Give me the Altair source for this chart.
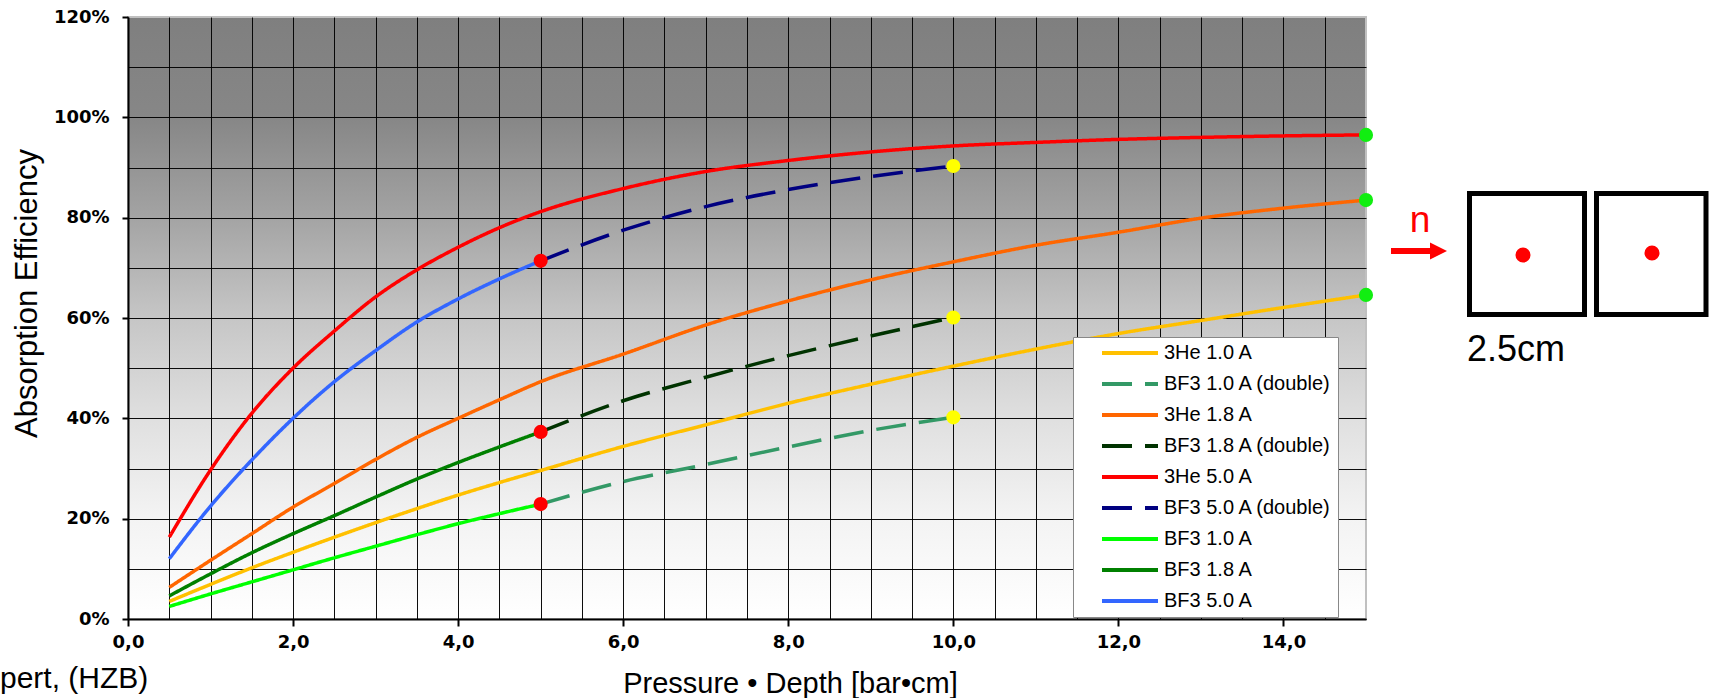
import altair as alt
import pandas as pd

# ---------------- data ----------------
x_he = [0.5, 1.0, 1.5, 2.0, 2.5, 3.0, 3.5, 4.0, 4.5, 5.0, 6.0, 7.0, 8.0, 9.0, 10.0, 11.0, 12.0, 13.0, 14.0, 15.0]
x_bf = [0.5, 1.0, 1.5, 2.0, 2.5, 3.0, 3.5, 4.0, 4.5, 5.0]
x_double = [5.0, 6.0, 7.0, 8.0, 9.0, 10.0]

he_10 = [3.5, 6.9, 10.2, 13.3, 16.3, 19.2, 22.0, 24.7, 27.2, 29.6, 34.4, 38.7, 43.0, 46.8, 50.4, 53.8, 56.9, 59.5, 62.1, 64.6]
he_18 = [6.3, 11.7, 17.0, 22.3, 27.0, 31.8, 36.2, 40.0, 43.7, 47.3, 52.8, 58.6, 63.4, 67.6, 71.2, 74.5, 77.1, 79.9, 81.9, 83.5]
he_50 = [16.3, 29.7, 41.0, 50.0, 57.4, 64.2, 69.6, 74.1, 78.0, 81.2, 85.8, 89.2, 91.4, 93.1, 94.3, 95.0, 95.6, 96.0, 96.3, 96.5]

bf_10 = [2.5, 5.0, 7.4, 9.8, 12.2, 14.5, 16.8, 19.0, 21.0, 22.9]
bf_18 = [4.6, 9.0, 13.2, 17.0, 20.6, 24.3, 27.9, 31.2, 34.3, 37.3]
bf_50 = [12.0, 22.5, 31.7, 40.0, 47.3, 53.5, 59.2, 63.8, 67.8, 71.4]

bf_10_double = [22.9, 27.4, 30.8, 34.3, 37.6, 40.2]
bf_18_double = [37.3, 43.5, 48.2, 52.5, 56.4, 60.1]
bf_50_double = [71.4, 77.5, 82.2, 85.6, 88.2, 90.3]

series_names = ["3He 1.0 A", "BF3 1.0 A (double)", "3He 1.8 A", "BF3 1.8 A (double)",
                "3He 5.0 A", "BF3 5.0 A (double)", "BF3 1.0 A", "BF3 1.8 A", "BF3 5.0 A"]
series_colors = ["#ffc000", "#339966", "#ff6600", "#003300",
                 "#ff0000", "#000080", "#00ff00", "#008000", "#3366ff"]
series_dashes = [[1, 0], [30, 13], [1, 0], [30, 13],
                 [1, 0], [30, 13], [1, 0], [1, 0], [1, 0]]

marker_x = [5.0, 5.0, 5.0, 10.0, 10.0, 10.0, 15.0, 15.0, 15.0]
marker_y = [71.4, 37.3, 22.9, 90.3, 60.1, 40.2, 96.5, 83.5, 64.6]
marker_kind = ["BF3 limit", "BF3 limit", "BF3 limit", "BF3 double", "BF3 double", "BF3 double",
               "3He", "3He", "3He"]
marker_kinds = ["BF3 limit", "BF3 double", "3He"]
marker_colors = ["#ff0000", "#ffff00", "#11ee11"]

x_ticks = [0.0, 0.5, 1.0, 1.5, 2.0, 2.5, 3.0, 3.5, 4.0, 4.5, 5.0, 5.5, 6.0, 6.5, 7.0, 7.5,
           8.0, 8.5, 9.0, 9.5, 10.0, 10.5, 11.0, 11.5, 12.0, 12.5, 13.0, 13.5, 14.0, 14.5]
y_ticks = [0, 5, 10, 15, 20, 25, 30, 35, 40, 45, 50, 55, 60, 65, 70, 75, 80, 85, 90, 95,
           100, 105, 110, 115, 120]

# ---------------- tables ----------------
rows = []
def add(name, xs, ys):
    for xv, yv in zip(xs, ys):
        rows.append({"series": name, "x": xv, "y": yv})

add("3He 1.0 A", x_he, he_10)
add("3He 1.8 A", x_he, he_18)
add("3He 5.0 A", x_he, he_50)
add("BF3 1.0 A", x_bf, bf_10)
add("BF3 1.8 A", x_bf, bf_18)
add("BF3 5.0 A", x_bf, bf_50)
add("BF3 1.0 A (double)", x_double, bf_10_double)
add("BF3 1.8 A (double)", x_double, bf_18_double)
add("BF3 5.0 A (double)", x_double, bf_50_double)
lines_df = pd.DataFrame(rows)
markers_df = pd.DataFrame({"x": marker_x, "y": marker_y, "kind": marker_kind})
one = pd.DataFrame({"k": [0]})

W, H = 1238, 602

x_scale = alt.Scale(domain=[0, 15], nice=False, zero=False)
y_scale = alt.Scale(domain=[0, 120], nice=False)

x_axis = alt.Axis(
    values=x_ticks,
    labelExpr="datum.value % 2 === 0 ? replace(format(datum.value, '.1f'), '.', ',') : ''",
    title="Pressure • Depth [bar•cm]",
    titleX=662, titleY=73, titleAlign="center", titleBaseline="alphabetic",
    titleFont="Liberation Sans", titleFontSize=29, titleFontWeight="normal", titleColor="black",
    labelPadding=7, labelOverlap=False, labelFlush=False, labelBound=False,
    tickSize=7, tickWidth=2, tickColor="black",
    tickOpacity={"condition": {"test": "datum.value % 2 === 0", "value": 1}, "value": 0},
    domainColor="black", domainWidth=2,
    grid=True, gridColor="black", gridWidth=1, gridOpacity=0.95,
)
y_axis = alt.Axis(
    values=y_ticks,
    labelExpr="datum.value % 20 === 0 ? datum.value + '%' : ''",
    title="Absorption Efficiency",
    titleX=-92, titleY=276, titleAngle=270, titleAlign="center", titleBaseline="alphabetic",
    titleFont="Liberation Sans", titleFontSize=31, titleFontWeight="normal", titleColor="black",
    labelPadding=13, labelOverlap=False, labelFlush=False, labelBound=False,
    tickSize=6, tickWidth=2, tickColor="black",
    tickOpacity={"condition": {"test": "datum.value % 20 === 0", "value": 1}, "value": 0},
    domainColor="black", domainWidth=2,
    grid=True, gridColor="black", gridWidth=1,
    gridOpacity={"condition": {"test": "datum.value >= 120", "value": 0}, "value": 0.95},
)

legend = alt.Legend(
    title=None, orient="none", legendX=945, legendY=320,
    symbolType="M0,0H7", symbolSize=256, symbolStrokeWidth=4,
    labelFont="Liberation Sans", labelFontSize=20, labelColor="black", labelLimit=400,
    rowPadding=11, labelOffset=52, symbolOffset=13, padding=6,
    fillColor="white", strokeColor="#888888",
)

lines = alt.Chart(lines_df).mark_line(strokeWidth=3.5, interpolate="monotone").encode(
    x=alt.X("x:Q", scale=x_scale, axis=x_axis),
    y=alt.Y("y:Q", scale=y_scale, axis=y_axis),
    stroke=alt.Stroke("series:N", scale=alt.Scale(domain=series_names, range=series_colors), legend=legend),
    strokeDash=alt.StrokeDash("series:N", scale=alt.Scale(domain=series_names, range=series_dashes), legend=legend),
)

points = alt.Chart(markers_df).mark_circle(size=200, opacity=1).encode(
    x=alt.X("x:Q", scale=x_scale),
    y=alt.Y("y:Q", scale=y_scale),
    fill=alt.Fill("kind:N", scale=alt.Scale(domain=marker_kinds, range=marker_colors), legend=None),
)

# ---------------- side diagram & note (pixel annotations) ----------------
sq1 = alt.Chart(one).mark_rect(fill="white", stroke="black", strokeWidth=5).encode(
    x=alt.value(1341.5), x2=alt.value(1456.5), y=alt.value(176.5), y2=alt.value(297.5))
sq2 = alt.Chart(one).mark_rect(fill="white", stroke="black", strokeWidth=5).encode(
    x=alt.value(1468.5), x2=alt.value(1578), y=alt.value(176.5), y2=alt.value(297.5))
dot1 = alt.Chart(one).mark_circle(color="#ff0000", size=227, opacity=1).encode(
    x=alt.value(1395), y=alt.value(238))
dot2 = alt.Chart(one).mark_circle(color="#ff0000", size=227, opacity=1).encode(
    x=alt.value(1524), y=alt.value(236))
shaft = alt.Chart(one).mark_rule(color="#ff0000", strokeWidth=6).encode(
    x=alt.value(1263), x2=alt.value(1304), y=alt.value(234))
head = alt.Chart(one).mark_point(shape="M-1,-1L1,0L-1,1Z", filled=True, color="#ff0000",
                                 size=289, opacity=1).encode(
    x=alt.value(1310.5), y=alt.value(234))
n_text = alt.Chart(one).mark_text(text="n", color="#ff0000", fontSize=37, font="Liberation Sans",
                                  align="center", baseline="alphabetic").encode(
    x=alt.value(1292), y=alt.value(215))
cm_text = alt.Chart(one).mark_text(text="2.5cm", color="black", fontSize=36, font="Liberation Sans",
                                   align="left", baseline="alphabetic").encode(
    x=alt.value(1339), y=alt.value(344))
credit = alt.Chart(one).mark_text(text="pert, (HZB)", color="black", fontSize=30, font="Liberation Sans",
                                  align="left", baseline="alphabetic").encode(
    x=alt.value(-128), y=alt.value(671))

gradient_expr = (
    "{gradient: 'linear', x1: 0, y1: 0, x2: 0, y2: 1, stops: ["
    "{offset: 0, color: '#7f7f7f'}, {offset: 0.17, color: '#878787'}, "
    "{offset: 0.33, color: '#a3a3a3'}, {offset: 0.5, color: '#c6c6c6'}, "
    "{offset: 0.67, color: '#e0e0e0'}, {offset: 0.83, color: '#f3f3f3'}, "
    "{offset: 1, color: '#ffffff'}]}"
)

chart = alt.layer(
    lines, points, sq1, sq2, dot1, dot2, shaft, head, n_text, cm_text, credit
).properties(
    width=W, height=H,
    autosize=alt.AutoSizeParams(type="none"),
    padding={"left": 128, "top": 17, "right": 343, "bottom": 79},
    background="white",
).configure_view(
    fill={"expr": gradient_expr},
    stroke="#c0c0c0", strokeWidth=2,
).configure_axis(
    labelFont="DejaVu Sans", labelFontSize=18, labelFontWeight="bold", labelColor="black",
)

chart.save("out.html", embed_options={"renderer": "svg", "actions": False})
